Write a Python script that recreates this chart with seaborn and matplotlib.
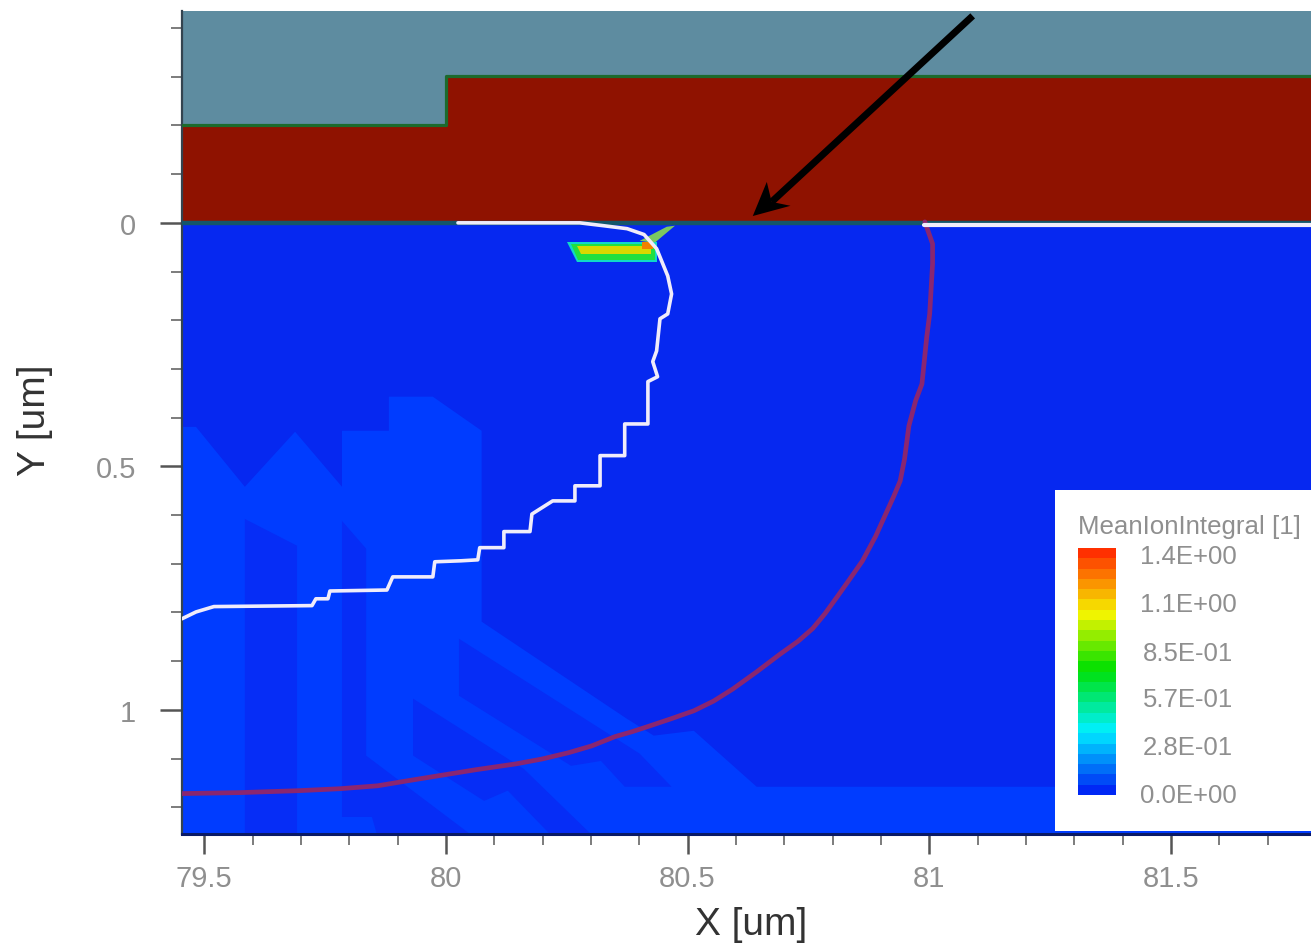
import numpy as np
import matplotlib
matplotlib.use("Agg")
import matplotlib.pyplot as plt
from matplotlib.colors import LinearSegmentedColormap
from matplotlib.patches import Rectangle
from matplotlib.ticker import MultipleLocator, FixedFormatter, FixedLocator
import seaborn as sns

# junction contours, x and y in um
white_x = [80.025, 80.277, 80.327, 80.375, 80.410, 80.436, 80.443, 80.459, 80.467, 80.459, 80.443, 80.436,
           80.428, 80.438, 80.418, 80.418, 80.370, 80.370, 80.319, 80.319, 80.267,
           80.267, 80.221, 80.178, 80.174, 80.120, 80.120, 80.070, 80.066, 80.031, 79.977, 79.973,
           79.890, 79.878, 79.760, 79.756, 79.731, 79.723, 79.520, 79.483, 79.454]
white_y = [0.0, 0.0, 0.006, 0.012, 0.024, 0.053, 0.070, 0.109, 0.146, 0.187, 0.197, 0.263,
           0.285, 0.316, 0.326, 0.413, 0.413, 0.478, 0.478, 0.540, 0.540,
           0.571, 0.571, 0.598, 0.634, 0.634, 0.667, 0.667, 0.692, 0.694, 0.696, 0.727,
           0.727, 0.754, 0.756, 0.772, 0.772, 0.786, 0.788, 0.799, 0.813]
white_right_x = [80.99, 81.79]
white_right_y = [0.004, 0.004]
purple_x = [80.991, 81.007, 81.007, 81.001, 80.995, 80.985, 80.972, 80.958, 80.949, 80.940, 80.926,
            80.910, 80.889, 80.862, 80.836, 80.811, 80.784, 80.759, 80.729, 80.691, 80.643, 80.594,
            80.554, 80.513, 80.467, 80.422, 80.385, 80.350, 80.302, 80.254, 80.199, 80.145, 80.062,
            79.981, 79.919, 79.859, 79.781, 79.696, 79.574, 79.454]
purple_y = [-0.002, 0.043, 0.084, 0.187, 0.234, 0.331, 0.365, 0.417, 0.485, 0.530, 0.563,
            0.598, 0.644, 0.694, 0.731, 0.766, 0.803, 0.833, 0.859, 0.886, 0.922, 0.957,
            0.982, 1.002, 1.018, 1.033, 1.045, 1.055, 1.074, 1.088, 1.101, 1.111, 1.123,
            1.136, 1.146, 1.156, 1.162, 1.166, 1.170, 1.172]

# layers above the silicon
red_x = [79.454, 79.454, 80.0, 80.0, 81.79, 81.79]
red_y = [0.0, -0.201, -0.201, -0.301, -0.301, 0.0]
edge_x = [79.454, 80.0, 80.0, 81.79]
edge_y = [-0.201, -0.201, -0.301, -0.301]

# low level field regions
light_x = [79.454, 79.483, 79.584, 79.688, 79.785, 79.785, 79.882, 79.882, 79.973, 80.074, 80.074,
           80.374, 80.430, 80.513, 80.643, 81.79, 81.79, 79.454]
light_y = [0.419, 0.419, 0.542, 0.429, 0.542, 0.427, 0.427, 0.357, 0.357, 0.427, 0.819,
           1.018, 1.053, 1.043, 1.158, 1.158, 1.255, 1.255]
dark_a_x = [79.584, 79.692, 79.692, 79.584]
dark_a_y = [0.608, 0.663, 1.255, 1.255]
dark_b_x = [79.785, 79.835, 79.835, 80.050, 79.857, 79.847, 79.785]
dark_b_y = [0.612, 0.669, 1.094, 1.255, 1.255, 1.220, 1.220]
dark_c_x = [80.027, 80.401, 80.467, 80.370, 80.321, 80.259, 80.027]
dark_c_y = [0.854, 1.090, 1.158, 1.158, 1.105, 1.115, 0.971]
dark_d_x = [79.932, 80.161, 80.300, 80.215, 80.128, 80.079, 79.932]
dark_d_y = [0.977, 1.121, 1.255, 1.255, 1.166, 1.187, 1.094]

# hot spot under the gate edge
hot_cyan_x = [80.250, 80.436, 80.436, 80.271]
hot_cyan_y = [0.039, 0.039, 0.080, 0.080]
hot_green_x = [80.258, 80.432, 80.432, 80.274]
hot_green_y = [0.043, 0.043, 0.076, 0.076]
hot_yellow_x = [80.271, 80.425, 80.425, 80.280]
hot_yellow_y = [0.047, 0.047, 0.064, 0.064]
hot_spot_x = [80.406, 80.428, 80.428, 80.406]
hot_spot_y = [0.040, 0.040, 0.054, 0.054]
hot_tail_x = [80.401, 80.457, 80.474, 80.432]
hot_tail_y = [0.037, 0.008, 0.006, 0.041]

# arrow, um
arrow_x = [81.090, 80.674]
arrow_y = [-0.425, -0.043]
head_x = [80.635, 80.664, 80.674, 80.713]
head_y = [-0.014, -0.084, -0.043, -0.035]

legend_labels = ["1.4E+00", "1.1E+00", "8.5E-01", "5.7E-01", "2.8E-01", "0.0E+00"]
legend_colors = ["#0028f5", "#00f0ff", "#00e000", "#f5f500", "#ff3000"]

sns.set_theme(style="ticks")
plt.rcParams["font.family"] = ["Liberation Sans", "DejaVu Sans"]

W, H = 1311, 945
fig = plt.figure(figsize=(W / 100, H / 100), dpi=100)
ax = fig.add_axes([182 / W, (H - 835) / H, (W - 182) / W, (835 - 12) / H])
ax.set_xlim(79.454, 81.79)
ax.set_ylim(1.255, -0.435)

ax.fill([79.454, 81.79, 81.79, 79.454], [-0.435, -0.435, 0.0, 0.0], color="#5e8ca0", lw=0, zorder=1)
ax.fill(red_x, red_y, color="#8f1200", lw=0, zorder=2)
ax.fill([79.454, 81.79, 81.79, 79.454], [0.0, 0.0, 1.255, 1.255], color="#0628f0", lw=0, zorder=1.5)
sns.lineplot(x=edge_x, y=edge_y, sort=False, estimator=None, color="#1c6a2c", lw=2.3, ax=ax, zorder=3)
ax.plot([79.454, 81.79], [0.0, 0.0], color="#15566a", lw=3.2, zorder=3)

ax.fill(light_x, light_y, color="#003cff", lw=0, zorder=2)
for px, py in [(dark_a_x, dark_a_y), (dark_b_x, dark_b_y), (dark_c_x, dark_c_y), (dark_d_x, dark_d_y)]:
    ax.fill(px, py, color="#062df6", lw=0, zorder=2.2)

ax.fill(hot_tail_x, hot_tail_y, color="#7cc860", lw=0, zorder=3.2)
ax.fill(hot_cyan_x, hot_cyan_y, color="#10d8c8", lw=0, zorder=3.2)
ax.fill(hot_green_x, hot_green_y, color="#20e040", lw=0, zorder=3.3)
ax.fill(hot_yellow_x, hot_yellow_y, color="#d8d800", lw=0, zorder=3.4)
ax.fill(hot_spot_x, hot_spot_y, color="#f08000", lw=0, zorder=3.5)

sns.lineplot(x=purple_x, y=purple_y, sort=False, estimator=None, color="#8a2670", lw=3.4, ax=ax, zorder=4)
sns.lineplot(x=white_x, y=white_y, sort=False, estimator=None, color="#f0ecfa", lw=2.6, ax=ax, zorder=4.2)
sns.lineplot(x=white_right_x, y=white_right_y, sort=False, estimator=None, color="#f0ecfa", lw=3.0, ax=ax, zorder=4.2)

sns.lineplot(x=arrow_x, y=arrow_y, sort=False, estimator=None, color="black", lw=5.0, ax=ax, zorder=6,
             solid_capstyle="butt")
ax.fill(head_x, head_y, color="black", lw=0, zorder=6)

# ticks, labels only at the major positions
ax.xaxis.set_major_locator(FixedLocator([79.5, 80, 80.5, 81, 81.5]))
ax.xaxis.set_major_formatter(FixedFormatter(["79.5", "80", "80.5", "81", "81.5"]))
ax.xaxis.set_minor_locator(MultipleLocator(0.1))
ax.yaxis.set_major_locator(FixedLocator([0, 0.5, 1]))
ax.yaxis.set_major_formatter(FixedFormatter(["0", "0.5", "1"]))
ax.yaxis.set_minor_locator(MultipleLocator(0.1))
ax.tick_params(axis="both", which="major", width=1.8, color="#555555", labelsize=21, labelcolor="#8f8f8f")
ax.tick_params(axis="both", which="minor", length=8, width=1.2, color="#666666")
ax.tick_params(axis="y", which="major", length=16, pad=17)
ax.tick_params(axis="x", which="major", length=14.5, pad=7)
sns.despine(ax=ax, top=True, right=True)
ax.spines["left"].set_color("#33434f")
ax.spines["left"].set_linewidth(1.6)
ax.spines["bottom"].set_color("#0a1a66")
ax.spines["bottom"].set_linewidth(2.2)

ax.set_xlabel("X [um]", fontsize=28, color="#333333", va="center")
ax.xaxis.set_label_coords((751 - 182) / (W - 182), -(925 - 835) / 823)
ax.set_ylabel("Y [um]", fontsize=28, color="#333333", va="center")
ax.yaxis.set_label_coords(-(182 - 35) / (W - 182), (835 - 420) / 823)

# legend box with colour scale
ax.add_patch(Rectangle((81.26, 0.548), 0.53, 0.70, facecolor="white", edgecolor="none", zorder=5))
fig.text(1078 / W, 1 - 527 / H, "MeanIonIntegral [1]", fontsize=18.6, color="#8f8f8f", va="center", ha="left")
cmap = LinearSegmentedColormap.from_list(
    "field", list(zip([0.0, 0.25, 0.51, 0.745, 1.0], legend_colors)), N=24)
cax = fig.add_axes([1078 / W, (H - 796) / H, 38 / W, 247 / H])
scale = np.linspace(1.4, 0.0, 24).reshape(-1, 1)
sns.heatmap(scale, cmap=cmap, vmin=0, vmax=1.4, cbar=False, xticklabels=False, yticklabels=False, ax=cax)
for label, py in zip(legend_labels, [557, 605, 654, 700, 748, 796]):
    fig.text(1188 / W, 1 - py / H, label, fontsize=18.5, color="#8f8f8f", va="center", ha="center")

plt.savefig("out.png", dpi=100)
plt.close()
